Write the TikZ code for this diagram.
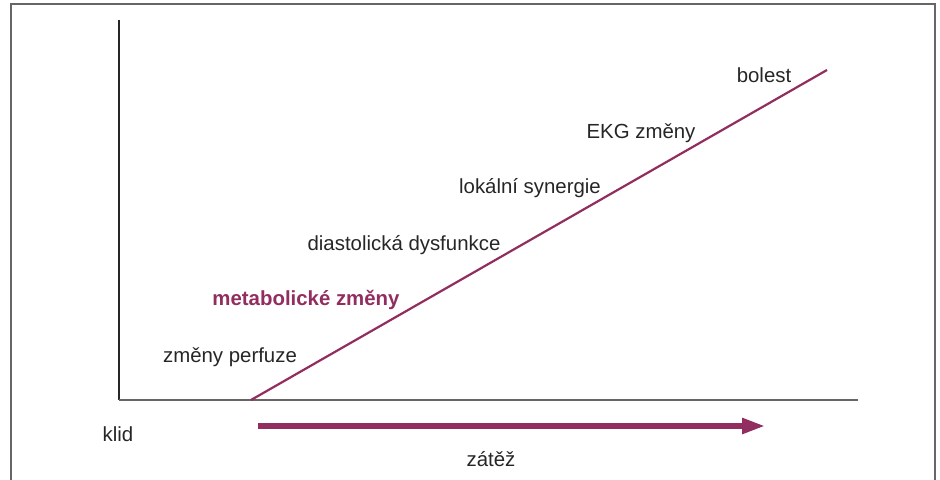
\documentclass[tikz,border=0pt]{standalone}
\usepackage{fontspec}
\setmainfont{Liberation Sans}
\usepackage{tikz}
\usetikzlibrary{arrows.meta}
\usepackage{xcolor}
\definecolor{vino}{RGB}{145,45,95}

\begin{document}
\begin{tikzpicture}[x=0.5pt, y=-0.5pt]

\tikzstyle{every node} = [inner sep=0pt, anchor=base, font=\fontsize{10.2}{12}\selectfont]
\tikzstyle{stupen} = [text=black!85]

\useasboundingbox (0,0) rectangle (940,480);

% frame and axes
\coordinate (f1) at (11,480);
\coordinate (f2) at (11,4);
\coordinate (f3) at (935,4);
\coordinate (f4) at (935,480);

\coordinate (o) at (119,400);
\coordinate (ytop) at (119,20);
\coordinate (xend) at (858,400);

\coordinate (s) at (251,400);
\coordinate (t) at (827,70);

\coordinate (a) at (258,426);
\coordinate (b) at (765,426);

% labels
\node[stupen] (bol) at (764,83) {bolest};
\node[stupen] (ekg) at (641,139) {EKG změny};
\node[stupen] (lok) at (530,194) {lokální synergie};
\node[stupen] (dia) at (404,250) {diastolická dysfunkce};
\node[text=vino, font=\fontsize{10.2}{12}\selectfont\bfseries] (met) at (306,305) {metabolické změny};
\node[stupen] (per) at (230,362) {změny perfuze};

\node[stupen] (klid) at (118,441) {klid};
\node[stupen] (zat) at (491,466) {zátěž};

\draw[-, line width=0.75pt, black!60] (f1) -- (f2) -- (f3) -- (f4);
\draw[-, line width=0.75pt, black!85] (ytop) -- (o);
\draw[-, line width=0.75pt, black!60] (o) -- (xend);
\draw[-, line width=1.1pt, vino] (s) -- (t);
\draw[-{Triangle[length=11.5pt, width=7.5pt]}, line width=2.7pt, vino] (a) -- (b);
\end{tikzpicture}
\end{document}
